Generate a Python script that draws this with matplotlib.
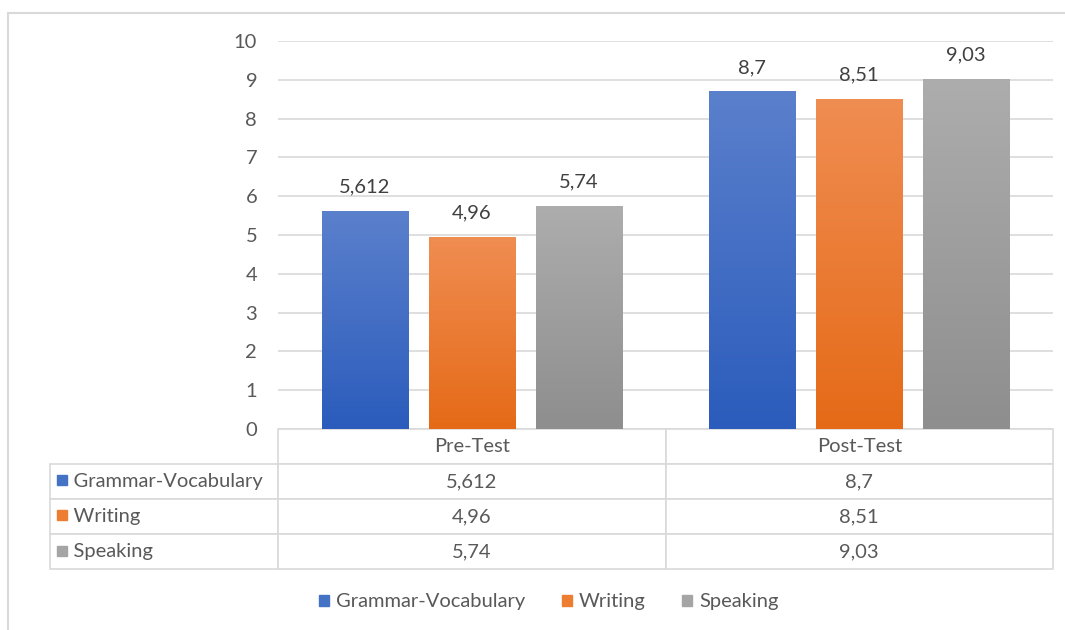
import matplotlib
matplotlib.use("Agg")
import matplotlib.pyplot as plt
from matplotlib.patches import Rectangle
from matplotlib.colors import LinearSegmentedColormap
import numpy as np

plt.rcParams['font.family'] = ['Lato', 'DejaVu Sans']

# ----- data -----
groups = ["Pre-Test", "Post-Test"]
series = ["Grammar-Vocabulary", "Writing", "Speaking"]
grammar = [5.612, 8.7]
writing = [4.96, 8.51]
speaking = [5.74, 9.03]
labels_grammar = ["5,612", "8,7"]
labels_writing = ["4,96", "8,51"]
labels_speaking = ["5,74", "9,03"]
yticks = [0, 1, 2, 3, 4, 5, 6, 7, 8, 9, 10]

# (top, bottom) of the gradient, plus flat colour for legend squares
colors = {
    "Grammar-Vocabulary": ("#5b80cc", "#2b5cbc", "#4472c4"),
    "Writing": ("#f08d52", "#e56a17", "#ed7d31"),
    "Speaking": ("#adadad", "#8e8e8e", "#a5a5a5"),
}
text_col = "#595959"
grid_col = "#d9d9d9"
fs = 14.5

fig = plt.figure(figsize=(10.65, 6.3), dpi=100)
ax = fig.add_axes([278 / 1065, 1 - 429 / 630, 775 / 1065, 388 / 630])

x = np.arange(len(groups)) + 0.5
width = 0.222
offsets = [-0.276, 0.0, 0.276]
values = [grammar, writing, speaking]
val_labels = [labels_grammar, labels_writing, labels_speaking]

for name, off, vals, labs in zip(series, offsets, values, val_labels):
    top, bot, flat = colors[name]
    cmap = LinearSegmentedColormap.from_list(name, [bot, top])
    bars = ax.bar(x + off, vals, width, color="none", edgecolor="none", zorder=3)
    for b, lab in zip(bars, labs):
        bx, bw, bh = b.get_x(), b.get_width(), b.get_height()
        grad = np.linspace(0, 1, 256).reshape(-1, 1)
        im = ax.imshow(grad, cmap=cmap, origin="lower", aspect="auto",
                       extent=[bx, bx + bw, 0, bh], zorder=3)
        im.set_clip_path(b)
        ax.text(bx + bw / 2, bh + 0.4, lab, ha="center", va="bottom",
                fontsize=fs, color="#404040")

ax.set_xlim(0, 2)
ax.set_ylim(0, 10)
ax.set_yticks(yticks)
ax.set_yticklabels([str(t) for t in yticks], fontsize=fs, color=text_col)
ax.tick_params(axis="y", length=0, pad=15)
ax.set_xticks([])
ax.grid(axis="y", color=grid_col, linewidth=1.2, zorder=0)
for s in ax.spines.values():
    s.set_visible(False)

# ----- data table under the axis -----
cell_text = [[""] + groups]
for name, labs in zip(series, val_labels):
    cell_text.append(["    " + name] + labs)

tbl = ax.table(cellText=cell_text, colWidths=[228 / 775, 0.5, 0.5],
               bbox=[-228 / 775, -140 / 388, 1 + 228 / 775, 140 / 388],
               cellLoc="center")
tbl.auto_set_font_size(False)
for (r, c), cell in tbl.get_celld().items():
    cell.set_edgecolor(grid_col)
    cell.set_linewidth(1.2)
    cell.get_text().set_fontsize(fs)
    cell.get_text().set_color(text_col)
    if c == 0:
        cell.get_text().set_horizontalalignment("left")
        cell._loc = "left"
        cell.PAD = 0.015
    if r == 0 and c == 0:
        cell.visible_edges = ""

# coloured squares in the table row labels
for i, name in enumerate(series):
    yc = -(51 + 35.3 * i) / 388
    ax.plot([-216 / 775], [yc], marker="s", markersize=7, color=colors[name][2],
            transform=ax.transAxes, clip_on=False, linestyle="none")

# ----- legend -----
handles = [Rectangle((0, 0), 1, 1, color=colors[n][2]) for n in series]
leg = fig.legend(handles, series, loc="center", bbox_to_anchor=(549 / 1065, 1 - 602 / 630),
                 ncol=3, frameon=False, fontsize=fs, handlelength=0.5, handleheight=0.5,
                 handletextpad=0.35, columnspacing=1.8)
for t in leg.get_texts():
    t.set_color(text_col)

# outer chart border
fig.add_artist(Rectangle((8 / 1065, -0.1), 1.2, 1 - 13 / 630 + 0.1, transform=fig.transFigure,
                         fill=False, edgecolor=grid_col, linewidth=1.5))

fig.savefig("out.png", dpi=100)
